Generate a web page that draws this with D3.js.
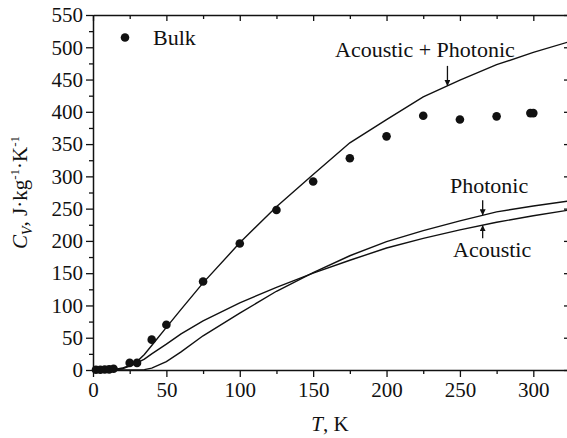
<!DOCTYPE html>
<html>
<head>
<meta charset="utf-8">
<script src="https://cdn.jsdelivr.net/npm/d3@7"></script>
<style>
  body { margin: 0; background: #fff; }
</style>
</head>
<body>
<div id="chart"></div>
<script>
// temperature grid used by the model curves (K)
const tGrid = [0, 10, 15, 20, 25, 30, 35, 40, 50, 60, 75, 100, 125, 150, 175, 200, 225, 250, 275, 300, 325];
const totalCv = [0, 0.5, 1, 3, 7, 13, 24, 38, 66, 94, 135, 197, 253, 303, 352, 388, 423, 449, 473, 492, 509];
const acousticCv = [0, 0, 0.5, 2, 6, 11, 17, 25, 40, 56, 76, 104, 128, 150, 170, 189, 204, 217, 229, 239, 248];
const photonicCv = [0, 0, 0, 0, 0, 0, 0.5, 3, 13, 28, 53, 88, 122, 151, 177, 199, 216, 231, 245, 254, 262];

// measured bulk points
const bulkT = [2, 5, 8, 11, 14, 25, 30, 40, 50, 75, 100, 125, 150, 175, 200, 225, 250, 275, 298, 300];
const bulkCv = [0.5, 0.5, 0.8, 1, 2, 11, 11, 47, 70, 137, 196, 248, 292, 328, 362, 394, 388, 393, 398, 398];

const xTicks = [0, 50, 100, 150, 200, 250, 300];
const yTicks = [0, 50, 100, 150, 200, 250, 300, 350, 400, 450, 500, 550];

const W = 567, H = 438;
const margin = {top: 15, right: -3, bottom: 68, left: 93};
const FONT = 'Liberation Serif';

const svg = d3.select('#chart').append('svg')
    .attr('width', W)
    .attr('height', H);

const x = d3.scaleLinear().domain([0, 325]).range([margin.left, W - margin.right]);
const y = d3.scaleLinear().domain([0, 550]).range([H - margin.bottom, margin.top]);

const tickFont = 21;

// axes
function styleAxis(g) {
    g.attr('font-family', FONT);
    g.selectAll('path.domain').attr('stroke', '#111').attr('stroke-width', 1.5);
    g.selectAll('.tick line').attr('stroke', '#111').attr('stroke-width', 1.3);
    g.selectAll('text').attr('font-size', tickFont).attr('fill', '#111');
}

const minorX = d3.range(25, 325, 50);
const minorY = d3.range(25, 550, 50);

// bottom
svg.append('g')
    .attr('transform', `translate(0,${y(0)})`)
    .call(d3.axisBottom(x).tickValues(minorX).tickSize(4).tickFormat(''))
    .call(g => g.select('.domain').remove())
    .call(styleAxis);
svg.append('g')
    .attr('transform', `translate(0,${y(0)})`)
    .call(d3.axisBottom(x).tickValues(xTicks).tickSize(7).tickSizeOuter(0).tickPadding(5))
    .call(styleAxis);

// left
svg.append('g')
    .attr('transform', `translate(${x(0)},0)`)
    .call(d3.axisLeft(y).tickValues(minorY).tickSize(4).tickFormat(''))
    .call(g => g.select('.domain').remove())
    .call(styleAxis);
svg.append('g')
    .attr('transform', `translate(${x(0)},0)`)
    .call(d3.axisLeft(y).tickValues(yTicks).tickSize(7).tickSizeOuter(0).tickPadding(3))
    .call(styleAxis);

// top (inward ticks)
svg.append('g')
    .attr('transform', `translate(0,${y(550)})`)
    .call(d3.axisBottom(x).tickValues(minorX).tickSize(4).tickFormat(''))
    .call(g => g.select('.domain').remove())
    .call(styleAxis);
svg.append('g')
    .attr('transform', `translate(0,${y(550)})`)
    .call(d3.axisBottom(x).tickValues(xTicks).tickSize(6).tickSizeOuter(0).tickFormat(''))
    .call(styleAxis);

// right (inward ticks)
svg.append('g')
    .attr('transform', `translate(${x(325)},0)`)
    .call(d3.axisLeft(y).tickValues(yTicks).tickSize(6).tickSizeOuter(0).tickFormat(''))
    .call(styleAxis);

// curves
const line = d3.line().x(d => x(d[0])).y(d => y(d[1]));
[totalCv, acousticCv, photonicCv].forEach(vals => {
    svg.append('path')
        .datum(tGrid.map((t, i) => [t, vals[i]]))
        .attr('d', line)
        .attr('fill', 'none')
        .attr('stroke', '#111')
        .attr('stroke-width', 1.4);
});

// bulk points
svg.selectAll('circle.bulk')
    .data(bulkT.map((t, i) => [t, bulkCv[i]]))
    .enter()
    .append('circle')
    .attr('class', 'bulk')
    .attr('cx', d => x(d[0]))
    .attr('cy', d => y(d[1]))
    .attr('r', 4.3)
    .attr('fill', '#111');

// legend
svg.append('circle').attr('cx', 125).attr('cy', 37.5).attr('r', 4.3).attr('fill', '#111');
svg.append('text').attr('x', 153).attr('y', 45).attr('font-size', 22).text('Bulk');

// annotations with arrows
svg.append('defs').append('marker')
    .attr('id', 'head')
    .attr('viewBox', '0 0 10 10')
    .attr('refX', 10).attr('refY', 5)
    .attr('markerWidth', 6).attr('markerHeight', 6)
    .attr('markerUnits', 'userSpaceOnUse')
    .attr('orient', 'auto')
    .append('path').attr('d', 'M0,0 L10,5 L0,10 Z').attr('fill', '#111');

const interp = (vals, t) => d3.scaleLinear().domain(tGrid).range(vals)(t);

function arrow(t, vals, len) {
    const yTip = y(interp(vals, t));
    svg.append('line')
        .attr('x1', x(t)).attr('x2', x(t))
        .attr('y1', yTip - len).attr('y2', yTip)
        .attr('stroke', '#111').attr('stroke-width', 1.3)
        .attr('marker-end', 'url(#head)');
}

svg.append('text').attr('x', 335).attr('y', 57).attr('font-size', 22).text('Acoustic + Photonic');
arrow(241.5, totalCv, 20);

svg.append('text').attr('x', 450).attr('y', 193).attr('font-size', 22).text('Photonic');
arrow(265.5, photonicCv, 15);

svg.append('text').attr('x', 453).attr('y', 257).attr('font-size', 22).text('Acoustic');
arrow(265.5, acousticCv, -13);

// axis titles
const xt = svg.append('text')
    .attr('x', 330).attr('y', 431)
    .attr('text-anchor', 'middle')
    .attr('font-size', 21);
xt.append('tspan').attr('font-style', 'italic').text('T');
xt.append('tspan').text(', K');

const yt = svg.append('text')
    .attr('transform', `translate(27,${(y(0) + y(550)) / 2}) rotate(-90)`)
    .attr('text-anchor', 'middle')
    .attr('font-size', 21);
yt.append('tspan').attr('font-style', 'italic').text('C');
yt.append('tspan').attr('font-style', 'italic').attr('font-size', 14).attr('dy', 5).text('V');
yt.append('tspan').attr('dy', -5).text(', J·kg');
yt.append('tspan').attr('font-size', 13).attr('dy', -8).text('-1');
yt.append('tspan').attr('dy', 8).text('·K');
yt.append('tspan').attr('font-size', 13).attr('dy', -8).text('-1');

// serif everywhere, as in the original figure
svg.selectAll('text').attr('font-family', FONT).attr('fill', '#111');
</script>
</body>
</html>
